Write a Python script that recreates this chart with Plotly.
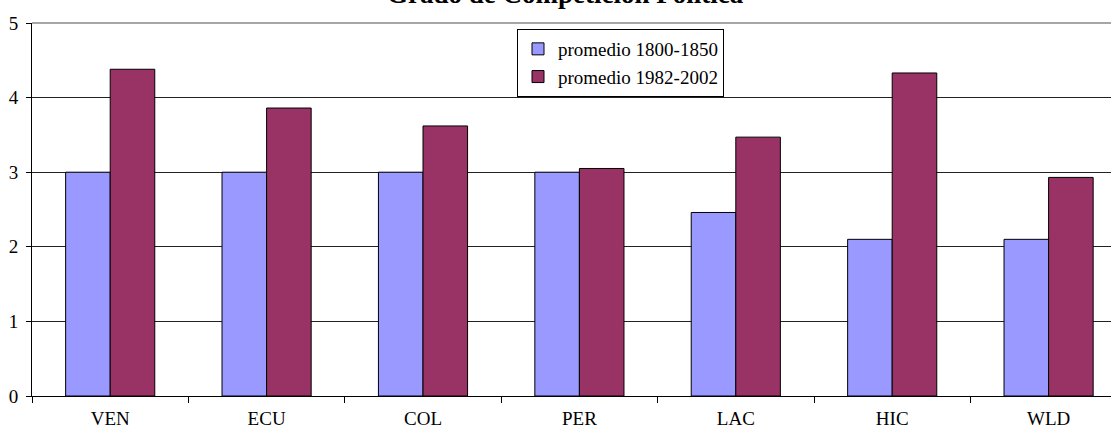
import plotly.graph_objects as go

categories = ["VEN", "ECU", "COL", "PER", "LAC", "HIC", "WLD"]
series1_name = "promedio 1800-1850"
series1_values = [3.0, 3.0, 3.0, 3.0, 2.46, 2.10, 2.10]
series2_name = "promedio 1982-2002"
series2_values = [4.38, 3.86, 3.62, 3.05, 3.47, 4.33, 2.93]
y_ticks = [0, 1, 2, 3, 4, 5]
title_text = "Grado de Competición Política"

FONT = "Liberation Serif, Times New Roman, serif"

fig = go.Figure()
fig.add_trace(go.Bar(
    x=categories, y=series1_values, name=series1_name,
    marker=dict(color="#9999FF", line=dict(color="black", width=1)),
))
fig.add_trace(go.Bar(
    x=categories, y=series2_values, name=series2_name,
    marker=dict(color="#993366", line=dict(color="black", width=1)),
))

W, H = 1111, 432
L, T, B = 32, 23, 36
plot_w = W - L
fig.update_layout(
    width=W, height=H,
    margin=dict(l=L, r=0, t=T, b=B, pad=0),
    paper_bgcolor="white", plot_bgcolor="white",
    barmode="group", bargap=0.43, bargroupgap=0,
    font=dict(family=FONT, size=19, color="black"),
    showlegend=True,
    legend=dict(
        x=(517 - L) / plot_w, y=(396 - 29) / (396 - T),
        xanchor="left", yanchor="top",
        bgcolor="white", bordercolor="black", borderwidth=1,
        font=dict(family=FONT, size=19, color="black"),
        itemwidth=30,
    ),
    xaxis=dict(
        range=[-0.5, -0.5 + plot_w / 156.4],
        tickson="boundaries", ticks="outside", ticklen=6, tickcolor="black",
        showline=True, linecolor="black", linewidth=1,
        showgrid=False, zeroline=False,
        ticklabelstandoff=5,
        tickfont=dict(family=FONT, size=19, color="black"),
    ),
    yaxis=dict(
        range=[0, 5], tickvals=y_ticks,
        ticks="outside", ticklen=5, tickcolor="black",
        showline=True, linecolor="black", linewidth=1,
        showgrid=True, gridcolor="#222222", gridwidth=1,
        zeroline=False,
        ticklabelstandoff=4,
        tickfont=dict(family=FONT, size=19, color="black"),
    ),
)
fig.add_shape(type="line", xref="paper", yref="paper", x0=0, x1=1, y0=1, y1=1,
              line=dict(color="#888888", width=1.5), layer="above")
fig.add_annotation(
    text="<b>" + title_text + "</b>", xref="paper", yref="paper",
    x=(565 - L) / plot_w, y=1, xanchor="center", yanchor="bottom",
    yshift=12, showarrow=False,
    font=dict(family=FONT, size=27, color="black"),
)

fig.write_html("out.html", config={"displayModeBar": False},
               post_script="document.body.style.margin='0px';")
